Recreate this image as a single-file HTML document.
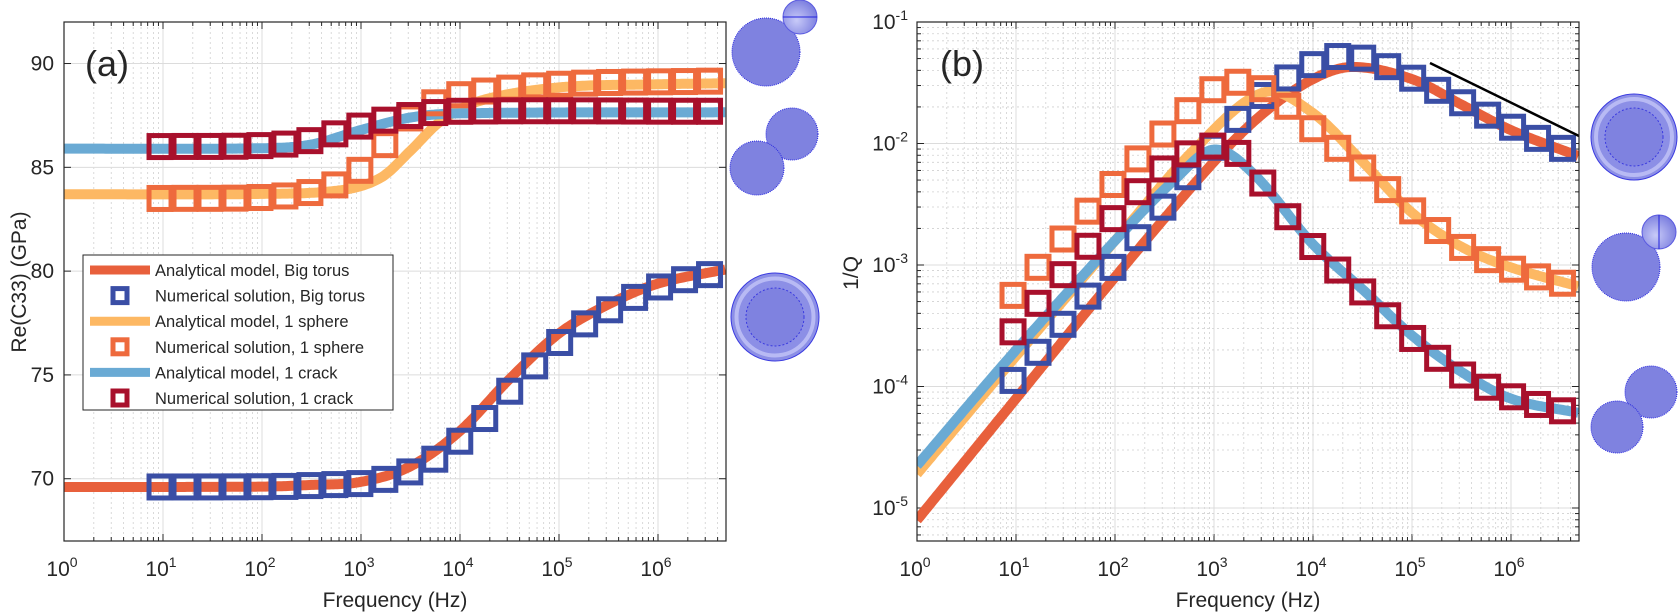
<!DOCTYPE html>
<html><head><meta charset="utf-8">
<style>
html,body{margin:0;padding:0;background:#fff;}
svg{display:block;}
text{font-family:"Liberation Sans",Arial,sans-serif;fill:#262626;}
</style></head>
<body>
<svg id="s" width="1679" height="615" viewBox="0 0 1679 615" xmlns="http://www.w3.org/2000/svg">
<defs>
<radialGradient id="sg" cx="0.4" cy="0.6" r="0.6">
<stop offset="0" stop-color="#c8caf8"/><stop offset="1" stop-color="#7f82e0"/>
</radialGradient>
<clipPath id="ca"><rect x="64" y="22" width="662" height="519"/></clipPath>
<clipPath id="cb"><rect x="917" y="22" width="662" height="519"/></clipPath>
</defs>
<g id="root"></g>
</svg>
<script>
var NS="http://www.w3.org/2000/svg";
var root=document.getElementById('root');
function el(tag,attrs,parent,txt){var e=document.createElementNS(NS,tag);for(var k in attrs)e.setAttribute(k,attrs[k]);if(txt!==undefined)e.textContent=txt;(parent||root).appendChild(e);return e;}
var DX=99, LMAX=6.69;
function interp(pts,u){
  if(u<=pts[0][0])return pts[0][1];
  var n=pts.length;if(u>=pts[n-1][0])return pts[n-1][1];
  for(var i=0;i<n-1;i++){if(u<=pts[i+1][0])break;}
  var p0=pts[Math.max(i-1,0)],p1=pts[i],p2=pts[i+1],p3=pts[Math.min(i+2,n-1)];
  var t=(u-p1[0])/(p2[0]-p1[0]);
  var h=p2[0]-p1[0];
  var m1=(p2[1]-p0[1])/(p2[0]-p0[0])*h, m2=(p3[1]-p1[1])/(p3[0]-p1[0])*h;
  var t2=t*t,t3=t2*t;
  return (2*t3-3*t2+1)*p1[1]+(t3-2*t2+t)*m1+(-2*t3+3*t2)*p2[1]+(t3-t2)*m2;
}
function panel(x0){
  var g=el('g',{});
  for(var d=0;d<7;d++){for(var m=2;m<10;m++){var u=d+Math.log10(m);if(u>LMAX)continue;var x=x0+u*DX;
    el('line',{x1:x,y1:22,x2:x,y2:541,stroke:'#d0d0d0','stroke-width':0.8,'stroke-dasharray':'2,3'},g);
    el('line',{x1:x,y1:541,x2:x,y2:537,stroke:'#262626','stroke-width':1},g);
    el('line',{x1:x,y1:22,x2:x,y2:26,stroke:'#262626','stroke-width':1},g);}}
  for(var d=1;d<7;d++){var x=x0+d*DX;el('line',{x1:x,y1:22,x2:x,y2:541,stroke:'#dcdcdc','stroke-width':1},g);
    el('line',{x1:x,y1:541,x2:x,y2:534,stroke:'#262626'},g);el('line',{x1:x,y1:22,x2:x,y2:29,stroke:'#262626'},g);}
  for(var d=0;d<7;d++){var x=x0+d*DX;var t=el('text',{x:x-2,y:576,'font-size':21,'text-anchor':'middle'},g);
    t.appendChild(document.createTextNode('10'));el('tspan',{dy:-9,'font-size':14},t,String(d));}
  el('text',{x:x0+331,y:607,'font-size':21,'text-anchor':'middle'},g,'Frequency (Hz)');
  return g;
}
var ga=panel(64);
function ya(v){return 22+(92-v)*20.76;}
[70,75,80,85,90].forEach(function(v){var y=ya(v);el('line',{x1:64,y1:y,x2:726,y2:y,stroke:'#dcdcdc'},ga);
  el('line',{x1:64,y1:y,x2:71,y2:y,stroke:'#262626'},ga);el('line',{x1:726,y1:y,x2:719,y2:y,stroke:'#262626'},ga);
  el('text',{x:54,y:y+7,'font-size':21,'text-anchor':'end'},ga,String(v));});
el('text',{x:0,y:0,'font-size':21,'text-anchor':'middle',transform:'translate(26,282) rotate(-90)'},ga,'Re(C33) (GPa)');
var gb=panel(917);
function yb(l){return 22+(-1-l)*121.5;}
for(var e=-6;e<=-1;e++){for(var m=1;m<10;m++){var l=e+Math.log10(m);var y=yb(l);if(y<22||y>541)continue;
  if(m==1){el('line',{x1:917,y1:y,x2:1579,y2:y,stroke:'#dcdcdc'},gb);el('line',{x1:917,y1:y,x2:924,y2:y,stroke:'#262626'},gb);el('line',{x1:1579,y1:y,x2:1572,y2:y,stroke:'#262626'},gb);
    var t=el('text',{x:908,y:y+7,'font-size':21,'text-anchor':'end'},gb);t.appendChild(document.createTextNode('10'));el('tspan',{dy:-9,'font-size':14},t,String(e));}
  else{el('line',{x1:917,y1:y,x2:1579,y2:y,stroke:'#d0d0d0','stroke-width':0.8,'stroke-dasharray':'2,3'},gb);el('line',{x1:917,y1:y,x2:921,y2:y,stroke:'#262626'},gb);el('line',{x1:1579,y1:y,x2:1575,y2:y,stroke:'#262626'},gb);}}}
el('text',{x:0,y:0,'font-size':21,'text-anchor':'middle',transform:'translate(858,273) rotate(-90)'},gb,'1/Q');

function curve(g,x0,pts,yf,col,w){var d='';for(var u=0;u<=LMAX+0.001;u+=0.02){var x=x0+u*DX,y=yf(interp(pts,u));d+=(d?'L':'M')+x.toFixed(1)+','+y.toFixed(1);}
  el('path',{d:d,fill:'none',stroke:col,'stroke-width':w},g);}
function squares(g,x0,pts,yf,col){for(var k=0;k<23;k++){var u=0.97+k*0.2523;var x=x0+u*DX,y=yf(interp(pts,u));
  el('rect',{x:x-11,y:y-11,width:22,height:22,fill:'none',stroke:col,'stroke-width':5},g);}}
var C_T='#e8603c',C_TS='#3a4ea5',C_S='#fdb863',C_SS='#ee6a3d',C_C='#6aaad4',C_CS='#a8102c';
var aT=[[0,69.6],[2,69.62],[2.5,69.7],[3,69.85],[3.5,70.6],[4,72.3],[4.5,74.8],[5,77],[5.5,78.4],[6,79.4],[6.7,80.1]];
var aTs=aT.map(function(p){return [p[0]+0.12,p[1]];});aTs.unshift([0,69.6]);
var aS=[[0,83.7],[2,83.72],[2.8,83.9],[3.2,84.5],[3.5,85.8],[3.8,87.2],[4.2,88.2],[5,88.85],[6,89.0],[6.7,89.05]];
var aSs=[[0.97,83.5],[2,83.55],[2.5,83.8],[2.8,84.3],[3.1,85.3],[3.4,87.0],[3.7,88.0],[4,88.5],[5,89.0],[6.5,89.15]];
var aC=[[0,85.9],[2,85.92],[2.5,86.1],[3,86.8],[3.5,87.4],[4,87.6],[6.7,87.65]];
var aCs=[[0.97,86.0],[2,86.05],[2.5,86.3],[3,87.0],[3.5,87.5],[4,87.7],[6.5,87.7]];
var pa=el('g',{'clip-path':'url(#ca)'});
curve(pa,64,aT,ya,C_T,10);curve(pa,64,aS,ya,C_S,10);curve(pa,64,aC,ya,C_C,10);
squares(pa,64,aTs,ya,C_TS);squares(pa,64,aSs,ya,C_SS);squares(pa,64,aCs,ya,C_CS);
var bT=[[0,-5.1],[1,-4.1],[2,-3.1],[3,-2.15],[3.5,-1.75],[4,-1.47],[4.4,-1.37],[5,-1.47],[5.5,-1.68],[6,-1.89],[6.7,-2.11]];
var bTs=[[0.97,-3.95],[2,-3.0],[3,-2.02],[3.5,-1.6],[4,-1.35],[4.3,-1.28],[4.6,-1.32],[5,-1.46],[5.5,-1.66],[6,-1.86],[6.5,-2.04]];
var bS=[[0,-4.72],[1,-3.75],[2,-2.8],[2.8,-2.05],[3.5,-1.58],[4,-1.75],[4.5,-2.15],[5,-2.57],[5.5,-2.85],[6,-3.02],[6.7,-3.18]];
var bSs=[[0.97,-3.25],[2,-2.32],[3,-1.55],[3.3,-1.5],[3.6,-1.6],[4,-1.88],[4.5,-2.2],[5,-2.55],[5.5,-2.85],[6,-3.03],[6.5,-3.15]];
var bC=[[0,-4.65],[1,-3.7],[2,-2.8],[2.6,-2.3],[3,-2.05],[3.4,-2.25],[4,-2.83],[4.5,-3.2],[5,-3.58],[5.5,-3.88],[6,-4.1],[6.7,-4.22]];
var bCs=[[0.97,-3.55],[2,-2.6],[2.5,-2.2],[3,-2.02],[3.3,-2.12],[3.6,-2.45],[4,-2.85],[4.5,-3.22],[5,-3.6],[5.5,-3.9],[6,-4.08],[6.5,-4.2]];
var pb=el('g',{'clip-path':'url(#cb)'});
curve(pb,917,bT,yb,C_T,10);curve(pb,917,bS,yb,C_S,10);curve(pb,917,bC,yb,C_C,10);
squares(pb,917,bTs,yb,C_TS);squares(pb,917,bSs,yb,C_SS);squares(pb,917,bCs,yb,C_CS);
el('line',{x1:1430,y1:63,x2:1579,y2:136,stroke:'#000','stroke-width':2.5});
el('rect',{x:64,y:22,width:662,height:519,fill:'none',stroke:'#262626','stroke-width':1.2});
el('rect',{x:917,y:22,width:662,height:519,fill:'none',stroke:'#262626','stroke-width':1.2});
el('text',{x:85,y:76,'font-size':36},root,'(a)');
el('text',{x:940,y:76,'font-size':36},root,'(b)');
var lg=el('g',{});
el('rect',{x:83,y:255,width:310,height:155,fill:'#fff',stroke:'#262626','stroke-width':1},lg);
var rows=[['l',C_T,'Analytical model, Big torus'],['m',C_TS,'Numerical solution, Big torus'],['l',C_S,'Analytical model, 1 sphere'],['m',C_SS,'Numerical solution, 1 sphere'],['l',C_C,'Analytical model, 1 crack'],['m',C_CS,'Numerical solution, 1 crack']];
rows.forEach(function(r,i){var y=270+i*25.6;
  if(r[0]=='l')el('line',{x1:90,y1:y,x2:150,y2:y,stroke:r[1],'stroke-width':9},lg);
  else el('rect',{x:113,y:y-7,width:14,height:14,fill:'none',stroke:r[1],'stroke-width':5},lg);
  el('text',{x:155,y:y+6,'font-size':16.5},lg,r[2]);});
function disk(cx,cy,r){el('circle',{cx:cx,cy:cy,r:r,fill:'#7f82e0',stroke:'#2a2ae0','stroke-width':1,'stroke-dasharray':'1,1'});}
function small(cx,cy,r,vert){el('circle',{cx:cx,cy:cy,r:r,fill:'url(#sg)',stroke:'#5a5ae0','stroke-width':1});
  if(vert)el('line',{x1:cx,y1:cy-r,x2:cx,y2:cy+r,stroke:'#2222dd','stroke-width':1});else el('line',{x1:cx-r,y1:cy,x2:cx+r,y2:cy,stroke:'#2222dd','stroke-width':1});}
function torus(cx,cy,R,r){el('circle',{cx:cx,cy:cy,r:R,fill:'#8c8fe6',stroke:'#3a3ae0','stroke-width':1});
  el('circle',{cx:cx,cy:cy,r:(R+r)/2+2,fill:'none',stroke:'#b8baf4','stroke-width':4});
  el('circle',{cx:cx,cy:cy,r:r,fill:'#7f82e0',stroke:'#3a3ae0','stroke-width':1,'stroke-dasharray':'2,2'});}
disk(766,52,34);small(800,17,17,false);
disk(792,134,26);disk(757,168,27);
torus(775,317,44,29);
torus(1634,137,43,29);
disk(1626,267,34);small(1659,232,17,true);
disk(1651,392,26);disk(1617,427,26);
</script>
</body></html>
